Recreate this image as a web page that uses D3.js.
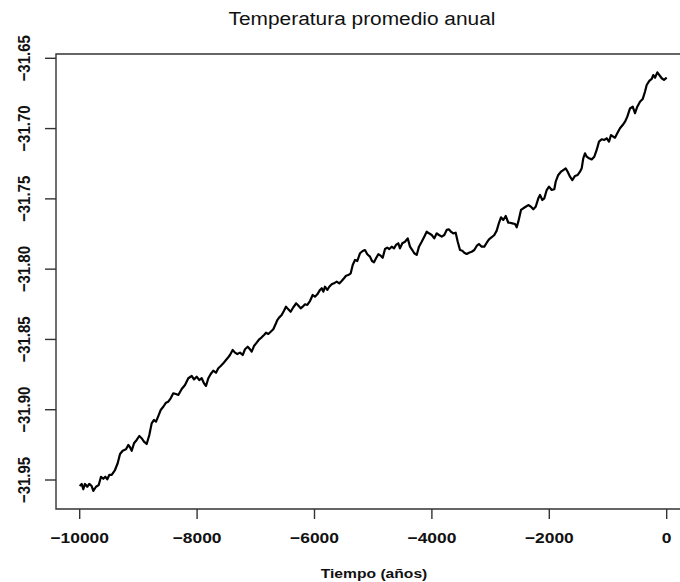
<!DOCTYPE html>
<html>
<head>
<meta charset="utf-8">
<script src="https://cdn.jsdelivr.net/npm/d3@7"></script>
<style>
  html, body { margin: 0; padding: 0; background: #fff; }
  svg { display: block; }
  text { font-family: "Liberation Sans", Arial, Helvetica, sans-serif; fill: #111; }
</style>
</head>
<body>
<svg id="chart" width="680" height="582"></svg>
<script>
const title = "Temperatura promedio anual";
const xLabel = "Tiempo (años)";
const xTicks = [-10000, -8000, -6000, -4000, -2000, 0];
const yTicks = [-31.95, -31.90, -31.85, -31.80, -31.75, -31.70, -31.65];

const years = [
  -10000, -9966, -9939, -9910, -9871, -9837, -9796, -9768, -9722, -9676,
  -9637, -9598, -9564, -9530, -9496, -9455, -9399, -9353, -9313, -9268,
  -9211, -9172, -9143, -9114, -9075, -9029, -8985, -8944, -8905, -8859,
  -8814, -8774, -8734, -8700, -8661, -8620, -8576, -8530, -8491, -8450,
  -8406, -8360, -8320, -8262, -8206, -8150, -8092, -8053, -8007, -7963,
  -7922, -7883, -7848, -7809, -7768, -7724, -7678, -7639, -7598, -7554,
  -7508, -7469, -7440, -7394, -7354, -7315, -7269, -7223, -7184, -7138,
  -7099, -7070, -7031, -6985, -6941, -6900, -6860, -6826, -6787, -6746,
  -6702, -6656, -6634, -6600, -6559, -6520, -6486, -6446, -6406, -6361,
  -6332, -6315, -6276, -6235, -6201, -6162, -6123, -6077, -6031, -5992,
  -5952, -5906, -5877, -5850, -5821, -5782, -5748, -5707, -5668, -5622,
  -5578, -5537, -5497, -5463, -5424, -5383, -5349, -5310, -5271, -5225,
  -5179, -5140, -5101, -5055, -5020, -4986, -4952, -4913, -4872, -4838,
  -4799, -4760, -4726, -4685, -4646, -4612, -4572, -4544, -4504, -4458,
  -4412, -4373, -4334, -4300, -4259, -4220, -4174, -4130, -4089, -4049,
  -4003, -3959, -3918, -3879, -3833, -3789, -3748, -3709, -3675, -3635,
  -3595, -3560, -3521, -3482, -3448, -3407, -3368, -3322, -3278, -3237,
  -3198, -3152, -3107, -3066, -3027, -2981, -2937, -2896, -2857, -2823,
  -2784, -2743, -2698, -2670, -2630, -2584, -2555, -2528, -2482, -2443,
  -2402, -2358, -2312, -2273, -2232, -2187, -2158, -2119, -2085, -2044,
  -2005, -1959, -1915, -1891, -1847, -1801, -1762, -1721, -1687, -1647,
  -1608, -1562, -1516, -1477, -1448, -1421, -1392, -1363, -1324, -1278,
  -1233, -1193, -1153, -1107, -1063, -1022, -983, -949, -910, -881,
  -842, -796, -750, -710, -671, -625, -579, -540, -501, -455,
  -409, -370, -341, -296, -256, -228, -199, -160, -126, -85,
  -46, 0
];

const temps = [
  -31.9543, -31.9528, -31.9566, -31.9528, -31.9548, -31.9528, -31.9543, -31.9578, -31.9548, -31.9536,
  -31.9477, -31.9491, -31.9477, -31.9495, -31.9464, -31.9464, -31.9429, -31.9381, -31.9315, -31.9292,
  -31.9282, -31.9251, -31.9267, -31.9292, -31.9239, -31.9215, -31.9187, -31.9203, -31.9227, -31.9244,
  -31.9180, -31.9097, -31.9073, -31.9085, -31.9045, -31.9002, -31.8979, -31.8950, -31.8943, -31.8919,
  -31.8883, -31.8888, -31.8895, -31.8853, -31.8824, -31.8776, -31.8760, -31.8784, -31.8765, -31.8789,
  -31.8776, -31.8812, -31.8831, -31.8776, -31.8746, -31.8722, -31.8737, -31.8705, -31.8689, -31.8670,
  -31.8646, -31.8627, -31.8611, -31.8575, -31.8594, -31.8604, -31.8594, -31.8611, -31.8570, -31.8552,
  -31.8570, -31.8587, -31.8547, -31.8523, -31.8499, -31.8485, -31.8468, -31.8452, -31.8461, -31.8445,
  -31.8428, -31.8385, -31.8362, -31.8343, -31.8326, -31.8296, -31.8267, -31.8286, -31.8303, -31.8271,
  -31.8255, -31.8243, -31.8259, -31.8279, -31.8267, -31.8250, -31.8255, -31.8227, -31.8184, -31.8196,
  -31.8179, -31.8148, -31.8136, -31.8160, -31.8125, -31.8148, -31.8125, -31.8108, -31.8101, -31.8089,
  -31.8101, -31.8084, -31.8065, -31.8047, -31.8042, -31.8030, -31.7970, -31.7935, -31.7942, -31.7887,
  -31.7871, -31.7864, -31.7894, -31.7911, -31.7942, -31.7951, -31.7923, -31.7894, -31.7904, -31.7919,
  -31.7857, -31.7847, -31.7857, -31.7840, -31.7852, -31.7828, -31.7816, -31.7852, -31.7816, -31.7805,
  -31.7781, -31.7840, -31.7864, -31.7887, -31.7899, -31.7840, -31.7805, -31.7769, -31.7734, -31.7745,
  -31.7757, -31.7781, -31.7745, -31.7757, -31.7769, -31.7757, -31.7721, -31.7717, -31.7734, -31.7745,
  -31.7741, -31.7805, -31.7864, -31.7869, -31.7883, -31.7892, -31.7883, -31.7876, -31.7864, -31.7835,
  -31.7821, -31.7840, -31.7840, -31.7812, -31.7788, -31.7773, -31.7757, -31.7726, -31.7670, -31.7631,
  -31.7650, -31.7622, -31.7670, -31.7670, -31.7674, -31.7679, -31.7702, -31.7662, -31.7579, -31.7567,
  -31.7556, -31.7544, -31.7556, -31.7574, -31.7556, -31.7496, -31.7472, -31.7508, -31.7496, -31.7437,
  -31.7413, -31.7437, -31.7432, -31.7378, -31.7330, -31.7307, -31.7295, -31.7283, -31.7307, -31.7342,
  -31.7366, -31.7337, -31.7330, -31.7307, -31.7283, -31.7211, -31.7176, -31.7200, -31.7211, -31.7219,
  -31.7200, -31.7152, -31.7093, -31.7076, -31.7081, -31.7069, -31.7093, -31.7046, -31.7058, -31.7065,
  -31.7034, -31.6998, -31.6975, -31.6951, -31.6915, -31.6856, -31.6844, -31.6891, -31.6844, -31.6809,
  -31.6790, -31.6738, -31.6690, -31.6661, -31.6647, -31.6619, -31.6638, -31.6600, -31.6619, -31.6642,
  -31.6654, -31.6638
];

const svg = d3.select("#chart");
const W = 680, H = 582;
const box = { left: 56, top: 54, right: 682, bottom: 509 };
const sx = 1.16; // horizontal stretch of text in the original picture

const x = d3.scaleLinear().domain([-10000, 0]).range([79.7, 666.7]);
const y = d3.scaleLinear().domain([-31.95, -31.65]).range([480, 58.3]);

// box (left, top, bottom visible)
svg.append("path")
  .attr("d", `M${box.right},${box.top}H${box.left}V${box.bottom}H${box.right}`)
  .attr("fill", "none").attr("stroke", "#333").attr("stroke-width", 1.4);

// y axis ticks
const yAxis = svg.append("g");
yTicks.forEach(t => {
  yAxis.append("line")
    .attr("x1", box.left - 11).attr("x2", box.left)
    .attr("y1", y(t)).attr("y2", y(t))
    .attr("stroke", "#333").attr("stroke-width", 1.4);
  yAxis.append("text")
    .attr("transform", `translate(30,${y(t)}) scale(${sx},1) rotate(-90)`)
    .attr("text-anchor", "middle")
    .attr("font-size", 15)
    .attr("font-weight", "bold")
    .text(d3.format(".2f")(t).replace("-", "\u2212"));
});

// x axis ticks
const xAxis = svg.append("g");
xTicks.forEach(t => {
  xAxis.append("line")
    .attr("x1", x(t)).attr("x2", x(t))
    .attr("y1", box.bottom).attr("y2", box.bottom + 10)
    .attr("stroke", "#333").attr("stroke-width", 1.4);
  xAxis.append("text")
    .attr("transform", `translate(${x(t)},543) scale(${sx},1)`)
    .attr("text-anchor", "middle")
    .attr("font-size", 15)
    .attr("font-weight", "bold")
    .text(String(t).replace("-", "\u2212"));
});

// series line
const data = years.map((yr, i) => ({ yr, v: temps[i] }));
svg.append("path")
  .datum(data)
  .attr("fill", "none")
  .attr("stroke", "#000")
  .attr("stroke-width", 2.2)
  .attr("stroke-linejoin", "round")
  .attr("d", d3.line().x(d => x(d.yr)).y(d => y(d.v)));

// title
svg.append("text")
  .attr("transform", `translate(362,25) scale(${sx},1)`)
  .attr("text-anchor", "middle")
  .attr("font-size", 18)
  .text(title);

// x label
svg.append("text")
  .attr("transform", `translate(374,578) scale(${sx},1)`)
  .attr("text-anchor", "middle")
  .attr("font-size", 13.5)
  .attr("font-weight", "bold")
  .text(xLabel);
</script>
</body>
</html>
